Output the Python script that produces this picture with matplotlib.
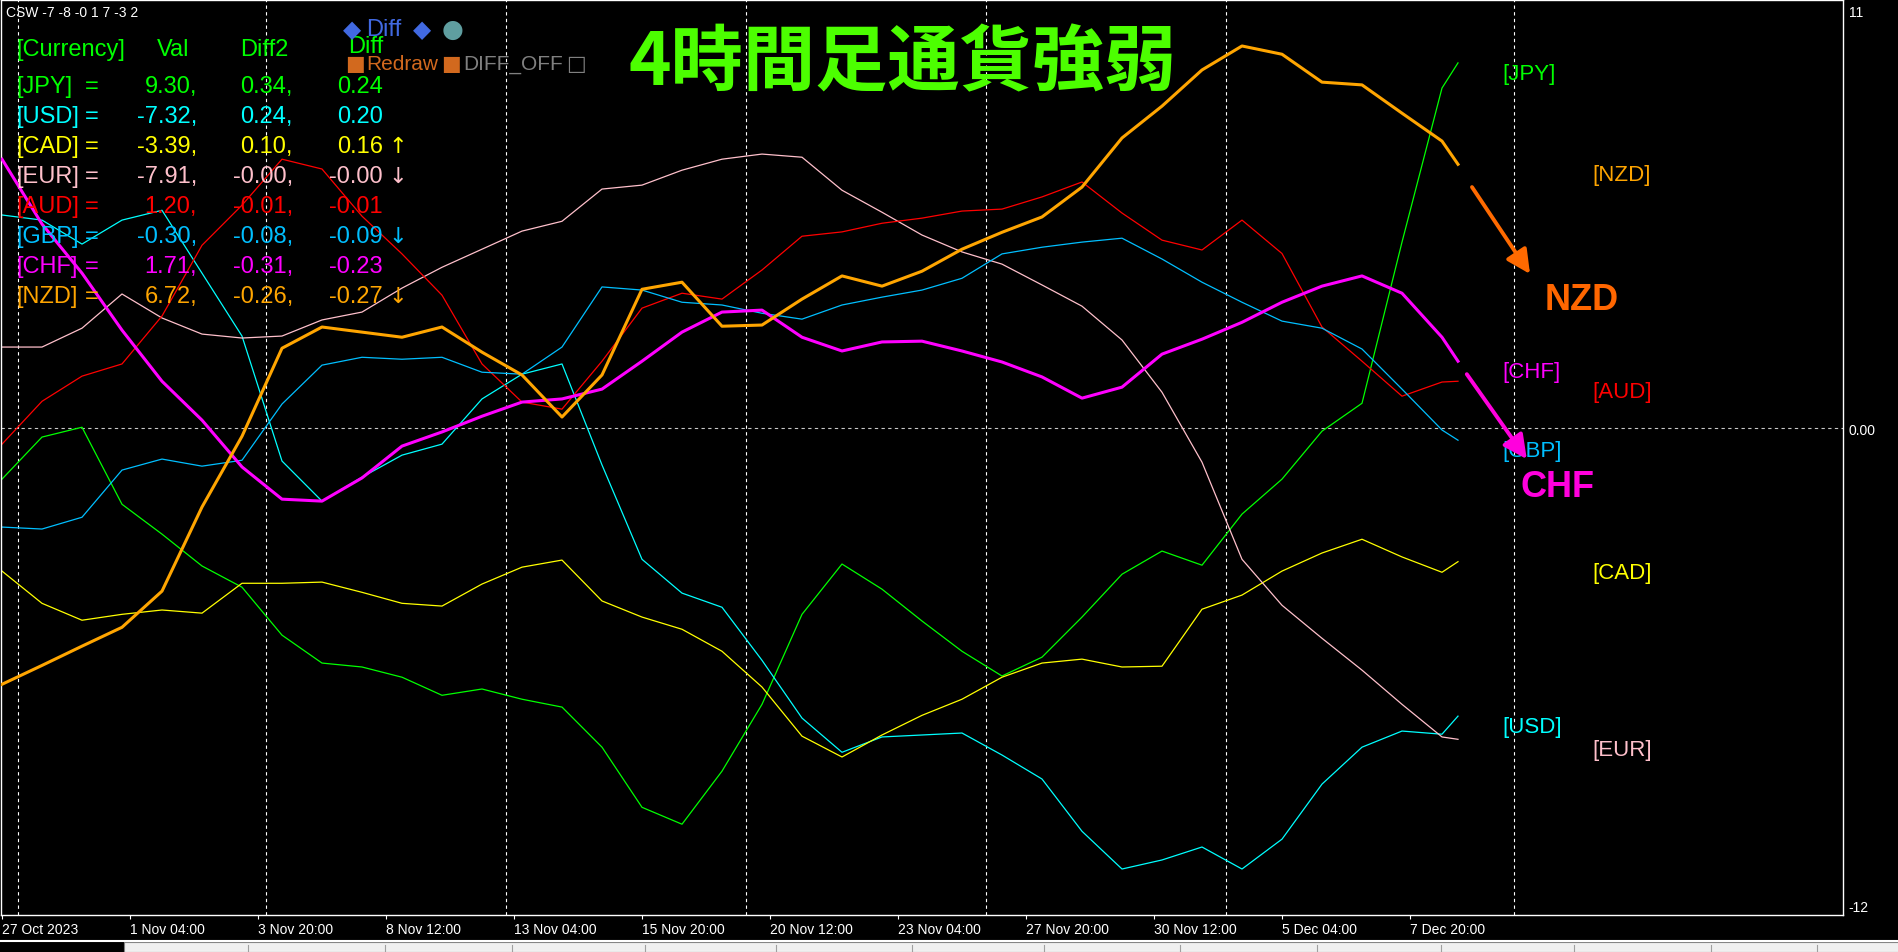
import matplotlib
matplotlib.use('Agg')
import matplotlib.pyplot as plt
from matplotlib import font_manager
from matplotlib.patches import Rectangle
from matplotlib.lines import Line2D

# H4 bar index of every sampled point (8 px per bar on the original chart)
bars = [0, 5, 10, 15, 20, 25, 30, 35, 40, 45, 50, 55, 60, 65, 70, 75, 80, 85, 90,
        95, 100, 105, 110, 115, 120, 125, 130, 135, 140, 145, 150, 155, 160, 165,
        170, 175, 180, 182]

jpy = [-1.29, -0.22, 0.03, -1.93, -2.69, -3.50, -4.04, -5.26, -5.97, -6.07, -6.33,
       -6.79, -6.63, -6.89, -7.09, -8.11, -9.64, -10.07, -8.72, -7.02, -4.73, -3.45,
       -4.09, -4.90, -5.67, -6.30, -5.82, -4.80, -3.71, -3.12, -3.48, -2.18, -1.29,
       -0.07, 0.64, 4.74, 8.66, 9.30]
usd = [5.43, 5.30, 4.69, 5.30, 5.55, 3.95, 2.35, -0.83, -1.85, -1.24, -0.68, -0.40,
       0.75, 1.38, 1.64, -0.93, -3.33, -4.19, -4.55, -5.90, -7.37, -8.24, -7.85,
       -7.80, -7.75, -8.31, -8.92, -10.25, -11.21, -10.98, -10.65, -11.21, -10.45,
       -9.05, -8.11, -7.70, -7.78, -7.32]
cad = [-3.63, -4.45, -4.88, -4.73, -4.62, -4.70, -3.94, -3.94, -3.91, -4.17, -4.45,
       -4.52, -3.96, -3.53, -3.35, -4.39, -4.80, -5.11, -5.67, -6.58, -7.83, -8.36,
       -7.80, -7.30, -6.89, -6.33, -5.97, -5.87, -6.07, -6.05, -4.60, -4.24, -3.63,
       -3.17, -2.82, -3.27, -3.66, -3.39]
eur = [2.07, 2.07, 2.55, 3.42, 2.81, 2.40, 2.30, 2.35, 2.76, 2.96, 3.57, 4.10, 4.56,
       5.02, 5.27, 6.09, 6.19, 6.57, 6.85, 6.98, 6.90, 6.06, 5.50, 4.92, 4.49, 4.18,
       3.65, 3.11, 2.25, 0.92, -0.86, -3.33, -4.50, -5.34, -6.15, -7.02, -7.85, -7.91]
aud = [-0.40, 0.69, 1.33, 1.64, 2.86, 4.66, 5.68, 6.85, 6.60, 5.40, 4.44, 3.39, 1.64,
       0.67, 0.49, 1.71, 3.06, 3.44, 3.29, 4.03, 4.89, 5.00, 5.22, 5.35, 5.53, 5.58,
       5.89, 6.27, 5.48, 4.79, 4.54, 5.30, 4.45, 2.58, 1.71, 0.82, 1.18, 1.20]
gbp = [-2.51, -2.56, -2.26, -1.06, -0.78, -0.96, -0.81, 0.62, 1.61, 1.81, 1.76, 1.81,
       1.43, 1.38, 2.07, 3.60, 3.52, 3.21, 3.14, 2.93, 2.78, 3.14, 3.34, 3.52, 3.82,
       4.44, 4.61, 4.74, 4.84, 4.31, 3.72, 3.21, 2.73, 2.55, 2.02, 1.00, -0.04, -0.30]
chf = [6.85, 5.20, 3.95, 2.50, 1.20, 0.21, -0.98, -1.80, -1.85, -1.26, -0.45, -0.09,
       0.31, 0.67, 0.75, 1.00, 1.71, 2.45, 2.96, 3.01, 2.32, 1.97, 2.20, 2.22, 1.97,
       1.69, 1.31, 0.77, 1.05, 1.89, 2.27, 2.70, 3.21, 3.62, 3.88, 3.44, 2.32, 1.71]
nzd = [-6.51, -6.03, -5.54, -5.06, -4.14, -2.00, -0.20, 2.04, 2.58, 2.45, 2.32, 2.58,
       1.94, 1.36, 0.29, 1.36, 3.54, 3.72, 2.60, 2.63, 3.29, 3.88, 3.62, 4.00, 4.56,
       4.99, 5.38, 6.14, 7.39, 8.20, 9.12, 9.73, 9.52, 8.81, 8.74, 8.02, 7.31, 6.72]

# table in the top left corner
currencies = ['JPY', 'USD', 'CAD', 'EUR', 'AUD', 'GBP', 'CHF', 'NZD']
val = [9.30, -7.32, -3.39, -7.91, 1.20, -0.30, 1.71, 6.72]
diff2 = [0.34, 0.24, 0.10, -0.00, -0.01, -0.08, -0.31, -0.26]
diff = [0.24, 0.20, 0.16, -0.00, -0.01, -0.09, -0.23, -0.27]
trend = ['', '', '↑', '↓', '', '↓', '', '↓']

# x axis
label_bars = [0, 16, 32, 48, 64, 80, 96, 112, 128, 144, 160, 176]
xlabels = ['27 Oct 2023', '1 Nov 04:00', '3 Nov 20:00', '8 Nov 12:00', '13 Nov 04:00',
           '15 Nov 20:00', '20 Nov 12:00', '23 Nov 04:00', '27 Nov 20:00',
           '30 Nov 12:00', '5 Dec 04:00', '7 Dec 20:00']
grid_bars = [2, 33, 63, 93, 123, 153, 189]

series = {'JPY': jpy, 'USD': usd, 'CAD': cad, 'EUR': eur,
          'AUD': aud, 'GBP': gbp, 'CHF': chf, 'NZD': nzd}
colors = {'JPY': '#00ff00', 'USD': '#00ffff', 'CAD': '#ffff00', 'EUR': '#ffc0cb',
          'AUD': '#ff0000', 'GBP': '#00bfff', 'CHF': '#ff00ff', 'NZD': '#ffa500'}
thick = ['CHF', 'NZD']

plt.rcParams['font.family'] = ['Liberation Sans', 'DejaVu Sans']

names = {f.name for f in font_manager.fontManager.ttflist}
if 'Liberation Sans Narrow' in names:
    fam = ['Liberation Sans Narrow', 'DejaVu Sans']
    tsize, lsize, bsize = 20, 18, 18
else:
    fam = ['Liberation Sans', 'DejaVu Sans']
    tsize, lsize, bsize = 17, 16, 15

W, H = 1899, 953
fig = plt.figure(figsize=(W / 100, H / 100), dpi=100, facecolor='black')
ax = fig.add_axes([1 / W, 37 / H, 1842 / W, 915 / H], facecolor='black')


def fx(x):
    return x / W


def fy(y):
    return 1 - y / H


ytop, ybot = 10.90, -12.38
ax.set_xlim(-0.125, 230.125)
ax.set_ylim(ybot, ytop)

for g in grid_bars:
    ax.axvline(g, color='white', lw=0.8, ls=(0, (3, 3)), zorder=1)
ax.axhline(0, color='#c8c8c8', lw=0.8, ls=(0, (3, 3)), zorder=1)

for c in currencies:
    if c in thick:
        continue
    ax.plot(bars, series[c], color=colors[c], lw=0.9, zorder=2)
for c in thick:
    ax.plot(bars, series[c], color=colors[c], lw=2.2, zorder=3)

# currency names at the right, alternating between two columns
order = sorted(currencies, key=lambda c: -series[c][-1])
for i, c in enumerate(order):
    ax.text(187.6 if i % 2 == 0 else 198.75, series[c][-1], f'[{c}]',
            color=colors[c], family=fam, fontsize=lsize, va='top', ha='left', zorder=4)

# arrows + big labels
arrow = '-|>,head_length=0.9,head_width=0.45'
ax.annotate('', xy=(191, 3.93), xytext=(183.75, 6.14), zorder=5,
            arrowprops=dict(arrowstyle=arrow, color='#ff6a00', lw=2.8,
                            mutation_scale=16, shrinkA=0, shrinkB=0))
ax.annotate('', xy=(190.6, -0.78), xytext=(183.1, 1.38), zorder=5,
            arrowprops=dict(arrowstyle=arrow, color='#ff00dd', lw=2.8,
                            mutation_scale=16, shrinkA=0, shrinkB=0))
ax.text(197.5, 3.27, 'NZD', color='#ff6600', fontsize=26, fontweight='bold',
        family='Liberation Sans', ha='center', va='center')
ax.text(194.4, -1.49, 'CHF', color='#ff00dd', fontsize=26, fontweight='bold',
        family='Liberation Sans', ha='center', va='center')

# axes look
for s in ax.spines.values():
    s.set_color('white')
    s.set_linewidth(1)
ax.set_xticks(label_bars)
ax.set_xticklabels(xlabels, ha='left')
ax.tick_params(axis='x', colors='white', length=3, width=0.8, pad=2, labelsize=10)
ax.yaxis.tick_right()
ax.set_yticks([ytop - 0.26, 0, ybot + 0.23])
ax.set_yticklabels(['11', '0.00', '-12'])
ax.tick_params(axis='y', colors='white', length=0, pad=4, labelsize=10)

# title
fig.text(fx(903), fy(64), '4時間足通貨強弱', fontsize=52, fontweight='bold', color='#4cff00',
         family=['Noto Sans CJK JP', 'DejaVu Sans'], ha='center', va='center')

fig.text(fx(6), fy(13), 'CSW -7 -8 -0 1 7 -3 2', color='white', fontsize=10, va='center')

# table
fig.text(fx(16), fy(50), '[Currency]', color='#00ff00', family=fam, fontsize=tsize, va='center')
fig.text(fx(157), fy(50), 'Val', color='#00ff00', family=fam, fontsize=tsize, va='center')
fig.text(fx(240), fy(50), 'Diff2', color='#00ff00', family=fam, fontsize=tsize, va='center')
fig.text(fx(348), fy(47), 'Diff', color='#00ff00', family=fam, fontsize=tsize, va='center')
for i, c in enumerate(currencies):
    y = fy(87 + 30 * i)
    col = colors[c]
    fig.text(fx(16), y, f'[{c}]', color=col, family=fam, fontsize=tsize, va='center')
    fig.text(fx(85), y, '=', color=col, family=fam, fontsize=tsize, va='center')
    fig.text(fx(197), y, f'{val[i]:.2f},', color=col, family=fam, fontsize=tsize,
             va='center', ha='right')
    fig.text(fx(293), y, f'{diff2[i]:.2f},', color=col, family=fam, fontsize=tsize,
             va='center', ha='right')
    fig.text(fx(383), y, f'{diff[i]:.2f}', color=col, family=fam, fontsize=tsize,
             va='center', ha='right')
    if trend[i]:
        fig.text(fx(388), y, trend[i], color=col, family='DejaVu Sans', fontsize=tsize - 1,
                 va='center')

# buttons
fig.text(fx(343), fy(30), '◆', color='#4169e1', family='DejaVu Sans', fontsize=17, va='center')
fig.text(fx(366), fy(30), 'Diff', color='#4169e1', family=fam, fontsize=tsize, va='center')
fig.text(fx(413), fy(30), '◆', color='#4169e1', family='DejaVu Sans', fontsize=17, va='center')
fig.text(fx(442), fy(30), '●', color='#5f9ea0', family='DejaVu Sans', fontsize=18, va='center')
fig.text(fx(345), fy(64), '■', color='#d2691e', family='DejaVu Sans', fontsize=15, va='center')
fig.text(fx(366), fy(64), 'Redraw', color='#d2691e', family=fam, fontsize=bsize, va='center')
fig.text(fx(441), fy(64), '■', color='#d2691e', family='DejaVu Sans', fontsize=15, va='center')
fig.text(fx(463), fy(64), 'DIFF_OFF', color='#808080', family=fam, fontsize=bsize, va='center')
fig.text(fx(566), fy(64), '□', color='#808080', family='DejaVu Sans', fontsize=15, va='center')

# bottom tab strip of the terminal window
fig.add_artist(Line2D([0, 1], [fy(941.5)] * 2, color='white', lw=1.5, transform=fig.transFigure))
fig.add_artist(Rectangle((fx(124), 0), 1 - fx(124), fy(943), transform=fig.transFigure,
                         facecolor='#f0f0f0', edgecolor='#808080', lw=0.8))
for s in [248, 385, 512, 645, 776, 912, 1044, 1180, 1317, 1441, 1574, 1711, 1817]:
    fig.add_artist(Line2D([fx(s)] * 2, [0, fy(946)], color='#a0a0a0', lw=0.8,
                          transform=fig.transFigure))

fig.savefig('out.png', dpi=100, facecolor='black')
